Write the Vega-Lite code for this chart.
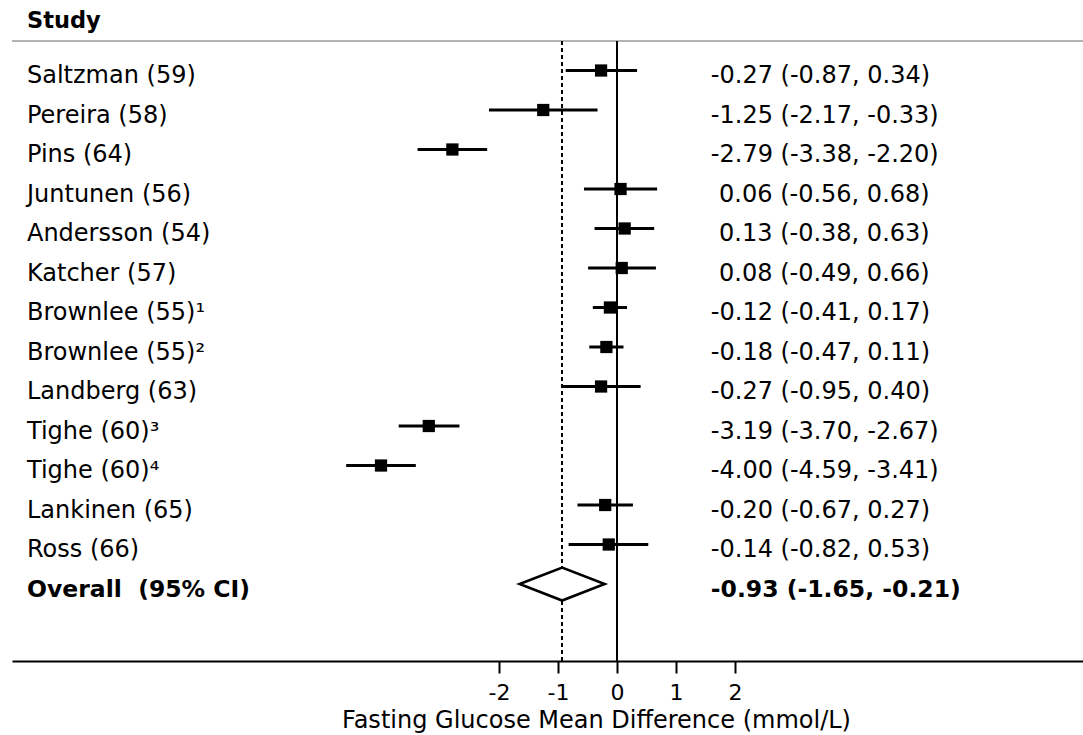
{
  "$schema": "https://vega.github.io/schema/vega-lite/v6.json",
  "width": 1071,
  "height": 661,
  "autosize": {"type": "none"},
  "padding": {"left": 12, "top": 0, "right": 0, "bottom": 74},
  "background": "white",
  "config": {"view": {"stroke": null}, "font": "DejaVu Sans"},
  "datasets": {
    "studies": [
      {"row": 1, "study": "Saltzman (59)", "est": -0.27, "lo": -0.87, "hi": 0.34, "ci": "-0.27 (-0.87, 0.34)"},
      {"row": 2, "study": "Pereira (58)", "est": -1.25, "lo": -2.17, "hi": -0.33, "ci": "-1.25 (-2.17, -0.33)"},
      {"row": 3, "study": "Pins (64)", "est": -2.79, "lo": -3.38, "hi": -2.20, "ci": "-2.79 (-3.38, -2.20)"},
      {"row": 4, "study": "Juntunen (56)", "est": 0.06, "lo": -0.56, "hi": 0.68, "ci": "0.06 (-0.56, 0.68)"},
      {"row": 5, "study": "Andersson (54)", "est": 0.13, "lo": -0.38, "hi": 0.63, "ci": "0.13 (-0.38, 0.63)"},
      {"row": 6, "study": "Katcher (57)", "est": 0.08, "lo": -0.49, "hi": 0.66, "ci": "0.08 (-0.49, 0.66)"},
      {"row": 7, "study": "Brownlee (55)¹", "est": -0.12, "lo": -0.41, "hi": 0.17, "ci": "-0.12 (-0.41, 0.17)"},
      {"row": 8, "study": "Brownlee (55)²", "est": -0.18, "lo": -0.47, "hi": 0.11, "ci": "-0.18 (-0.47, 0.11)"},
      {"row": 9, "study": "Landberg (63)", "est": -0.27, "lo": -0.95, "hi": 0.40, "ci": "-0.27 (-0.95, 0.40)"},
      {"row": 10, "study": "Tighe (60)³", "est": -3.19, "lo": -3.70, "hi": -2.67, "ci": "-3.19 (-3.70, -2.67)"},
      {"row": 11, "study": "Tighe (60)⁴", "est": -4.00, "lo": -4.59, "hi": -3.41, "ci": "-4.00 (-4.59, -3.41)"},
      {"row": 12, "study": "Lankinen (65)", "est": -0.20, "lo": -0.67, "hi": 0.27, "ci": "-0.20 (-0.67, 0.27)"},
      {"row": 13, "study": "Ross (66)", "est": -0.14, "lo": -0.82, "hi": 0.53, "ci": "-0.14 (-0.82, 0.53)"}
    ],
    "overall": [
      {"row": 14, "study": "Overall\u00a0 (95% CI)", "est": -0.93, "lo": -1.65, "hi": -0.21, "ci": "-0.93 (-1.65, -0.21)"}
    ],
    "header": [
      {"row": 0, "label": "Study"}
    ]
  },
  "data": {"name": "studies"},
  "encoding": {
    "x": {
      "type": "quantitative",
      "scale": {"domain": [-10.254, 7.898], "nice": false, "zero": false},
      "axis": {
        "values": [-2, -1, 0, 1, 2],
        "labelExpr": "'' + datum.value",
        "title": "Fasting Glucose Mean Difference (mmol/L)",
        "grid": false,
        "domainColor": "black",
        "domainWidth": 2,
        "tickColor": "black",
        "tickWidth": 2,
        "tickSize": 12,
        "labelFont": "DejaVu Sans",
        "labelFontSize": 22,
        "labelColor": "black",
        "labelBaseline": "alphabetic",
        "labelPadding": 26,
        "labelFlush": false,
        "labelOverlap": false,
        "titleFont": "DejaVu Sans",
        "titleFontSize": 24,
        "titleFontWeight": "normal",
        "titleColor": "black",
        "titleX": 584,
        "titleY": 66,
        "titleAlign": "center",
        "titleBaseline": "alphabetic"
      }
    },
    "y": {
      "type": "quantitative",
      "scale": {"domain": [-0.7848, 15.949], "reverse": true, "nice": false, "zero": false},
      "axis": null
    }
  },
  "layer": [
    {
      "mark": {"type": "rule", "stroke": "#b4b4b4", "strokeWidth": 2},
      "encoding": {"y": {"datum": 0.2532}, "x": {"datum": -10.254}, "x2": {"datum": 7.898}}
    },
    {
      "mark": {"type": "rule", "stroke": "black", "strokeWidth": 1.8},
      "encoding": {"x": {"datum": 0}, "y": {"datum": 0.2532}, "y2": {"datum": 15.949}}
    },
    {
      "mark": {"type": "rule", "stroke": "black", "strokeWidth": 1.4, "strokeDash": [4, 3]},
      "encoding": {"x": {"datum": -0.93}, "y": {"datum": 0.2532}, "y2": {"datum": 15.949}}
    },
    {
      "mark": {"type": "rule", "stroke": "black", "strokeWidth": 3.2},
      "encoding": {"x": {"field": "lo"}, "x2": {"field": "hi"}, "y": {"field": "row"}}
    },
    {
      "mark": {"type": "point", "shape": "square", "filled": true, "size": 150, "color": "black", "opacity": 1},
      "encoding": {"x": {"field": "est"}, "y": {"field": "row"}}
    },
    {
      "data": {"name": "overall"},
      "mark": {"type": "point", "shape": "M-1,0L0,-0.388L1,0L0,0.388Z", "size": 7225, "filled": false, "stroke": "black", "strokeWidth": 2.6, "fill": "white", "opacity": 1},
      "encoding": {"x": {"field": "est"}, "y": {"field": "row"}}
    },
    {
      "mark": {"type": "text", "align": "left", "baseline": "alphabetic", "dy": 12.5, "fontSize": 24, "font": "DejaVu Sans", "color": "black"},
      "encoding": {"x": {"datum": -10.0}, "y": {"field": "row"}, "text": {"field": "study"}}
    },
    {
      "transform": [{"filter": "datum.est < 0"}],
      "mark": {"type": "text", "align": "left", "baseline": "alphabetic", "dy": 12.5, "fontSize": 24, "font": "DejaVu Sans", "color": "black"},
      "encoding": {"x": {"datum": 1.59}, "y": {"field": "row"}, "text": {"field": "ci"}}
    },
    {
      "transform": [{"filter": "datum.est >= 0"}],
      "mark": {"type": "text", "align": "left", "baseline": "alphabetic", "dy": 12.5, "fontSize": 24, "font": "DejaVu Sans", "color": "black"},
      "encoding": {"x": {"datum": 1.73}, "y": {"field": "row"}, "text": {"field": "ci"}}
    },
    {
      "data": {"name": "overall"},
      "mark": {"type": "text", "align": "left", "baseline": "alphabetic", "dy": 13, "fontSize": 23.5, "fontWeight": "bold", "font": "DejaVu Sans", "color": "black"},
      "encoding": {"x": {"datum": -10.0}, "y": {"field": "row"}, "text": {"field": "study"}}
    },
    {
      "data": {"name": "overall"},
      "mark": {"type": "text", "align": "left", "baseline": "alphabetic", "dy": 13, "fontSize": 23.5, "fontWeight": "bold", "font": "DejaVu Sans", "color": "black"},
      "encoding": {"x": {"datum": 1.59}, "y": {"field": "row"}, "text": {"field": "ci"}}
    },
    {
      "data": {"name": "header"},
      "mark": {"type": "text", "align": "left", "baseline": "alphabetic", "dy": -3, "fontSize": 22.5, "fontWeight": "bold", "font": "DejaVu Sans", "color": "black"},
      "encoding": {"x": {"datum": -10.0}, "y": {"field": "row"}, "text": {"field": "label"}}
    }
  ]
}
